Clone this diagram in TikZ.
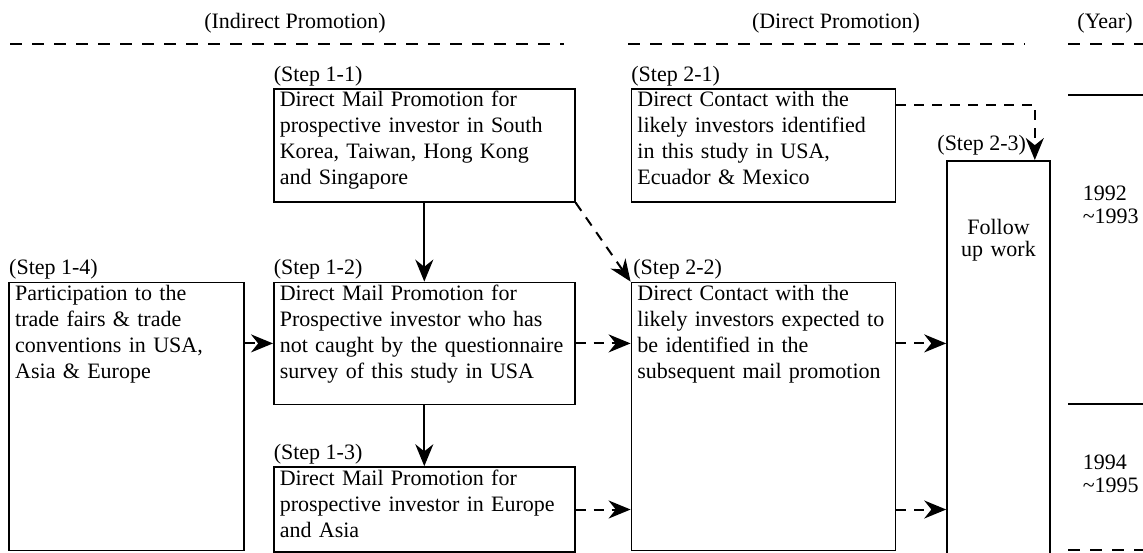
\documentclass[tikz,border=0pt]{standalone}
\usepackage{fontspec}
\setmainfont{Liberation Serif}
\usetikzlibrary{positioning, arrows.meta}

\begin{document}
\begin{tikzpicture}[
    >={Stealth[length=11pt,width=9pt]},
    line width=0.8pt,
    box/.style={
        rectangle,
        draw,
        align=left,
        inner xsep=3pt,
        inner ysep=0pt,
        text height=9pt,
        anchor=north west,
        font=\fontsize{11}{13}\selectfont
    },
    steplabel/.style={inner sep=0pt, font=\fontsize{11}{13}\selectfont},
    head/.style={inner sep=0pt, anchor=base, font=\fontsize{11}{13}\selectfont},
    yearlabel/.style={inner sep=0pt, anchor=north west, align=left, font=\fontsize{11}{11.5}\selectfont},
    rule/.style={line width=0.6pt, dash pattern=on 6pt off 5pt},
    arrow/.style={->, line width=1pt},
    darrow/.style={->, line width=1pt, dash pattern=on 5pt off 4pt}
]

% Page frame
\useasboundingbox (0,0) rectangle (571.5pt,-276pt);

% Headers
\node[head] (hind) at (147.5pt,-14pt) {(Indirect Promotion)};
\node[head] (hdir) at (418pt,-14pt) {(Direct Promotion)};
\node[head] (hyear) at (552.5pt,-14pt) {(Year)};
\draw[rule] (5pt,-22pt) -- (282pt,-22pt);
\draw[rule] (314pt,-22pt) -- (512.5pt,-22pt);
\draw[rule] (534pt,-22pt) -- (571.5pt,-22pt);

% Step 1-1
\node[box, text width=144.5pt, text depth=47.5pt] (s11) at (136.5pt,-44pt) {
    Direct Mail Promotion for\\
    prospective investor in South\\
    Korea, Taiwan, Hong Kong\\
    and Singapore};

% Step 1-2
\node[box, text width=144.5pt, text depth=52pt, below=39.5pt of s11.south west, anchor=north west] (s12) {
    Direct Mail Promotion for\\
    Prospective investor who has\\
    not caught by the questionnaire\\
    survey of this study in USA};

% Step 1-3
\node[box, text width=144.5pt, text depth=33.5pt, below=30.5pt of s12.south west, anchor=north west] (s13) {
    Direct Mail Promotion for\\
    prospective investor in Europe\\
    and Asia};

% Step 1-4
\node[box, text width=111.5pt, text depth=125pt, left=14pt of s12.north west, anchor=north east] (s14) {
    Participation to the\\
    trade fairs \& trade\\
    conventions in USA,\\
    Asia \& Europe};

% Step 2-1
\node[box, text width=126pt, text depth=47.5pt, right=27.5pt of s11.north east, anchor=north west] (s21) {
    Direct Contact with the\\
    likely investors identified\\
    in this study in USA,\\
    Ecuador \& Mexico};

% Step 2-2
\node[box, text width=126pt, text depth=125pt, below=39.5pt of s21.south west, anchor=north west] (s22) {
    Direct Contact with the\\
    likely investors expected to\\
    be identified in the\\
    subsequent mail promotion};

% Step 2-3 (runs off the bottom of the page)
\node[draw, inner sep=0pt, text width=51.5pt, align=center, text height=37pt, text depth=163pt,
      font=\fontsize{11}{11}\selectfont, right=25pt of s21.north east, anchor=north west, yshift=-36pt] (s23) {
    Follow\\up work};
\coordinate (fin) at ([xshift=-8pt]s23.north east);

% Step labels
\node[steplabel, above=3.5pt of s11.north west, anchor=base west] (l11) {(Step 1-1)};
\node[steplabel, above=3.5pt of s12.north west, anchor=base west] (l12) {(Step 1-2)};
\node[steplabel, above=3.5pt of s13.north west, anchor=base west] (l13) {(Step 1-3)};
\node[steplabel, above=3.5pt of s14.north west, anchor=base west] (l14) {(Step 1-4)};
\node[steplabel, above=3.5pt of s21.north west, anchor=base west] (l21) {(Step 2-1)};
\node[steplabel, above=3.5pt of s22.north west, anchor=base west, xshift=1pt] (l22) {(Step 2-2)};
\node[steplabel, anchor=base east] (l23) at ([xshift=-4pt,yshift=5pt]fin) {(Step 2-3)};

% Arrows
\draw[arrow] (s11) -- (s12);
\draw[arrow] (s12) -- (s13);
\draw[darrow] (s14.east |- s12.west) -- (s12.west);
\draw[darrow] (s12.east) -- (s12.east -| s22.west);
\draw[darrow] (s13.east) -- (s13.east -| s22.west);
\draw[darrow] (s22.east |- s12.east) -- (s23.west |- s12.east);
\draw[darrow] (s22.east |- s13.east) -- (s23.west |- s13.east);
\draw[darrow] (s11.south east) -- (s22.north west);
\draw[darrow] ([yshift=-8.5pt]s21.north east) -| (fin);

% Year column
\draw (534pt,-47.5pt) -- (571.5pt,-47.5pt);
\draw (534pt,-202pt) -- (571.5pt,-202pt);
\draw[rule] (534pt,-275pt) -- (571.5pt,-275pt);
\node[yearlabel] (y1) at (541pt,-92.5pt) {1992\\\textasciitilde1993};
\node[yearlabel] (y2) at (541pt,-227pt) {1994\\\textasciitilde1995};

\end{tikzpicture}
\end{document}
